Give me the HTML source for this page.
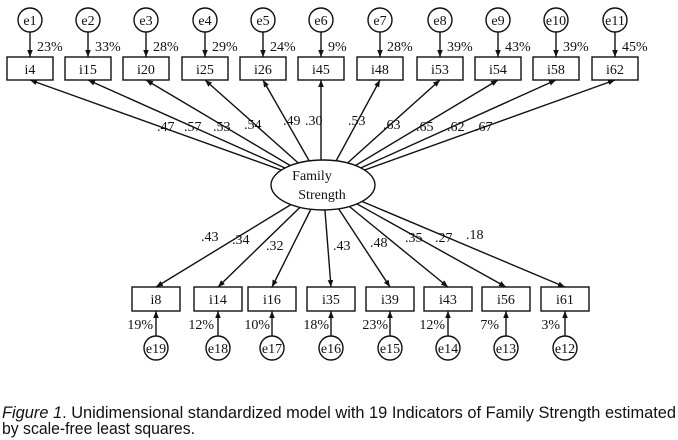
<!DOCTYPE html>
<html><head><meta charset="utf-8"><style>
html,body{margin:0;padding:0;background:#fff;width:678px;height:440px;overflow:hidden}
svg{display:block}
.t{font-family:"Liberation Serif",serif;font-size:14px;fill:#111}
.c{font-family:"Liberation Sans",sans-serif;font-size:17px;fill:#111}
</style></head><body>
<svg width="678" height="440" viewBox="0 0 678 440" xmlns="http://www.w3.org/2000/svg">
<defs><marker id="a" viewBox="0 0 10 10" refX="10" refY="5" markerWidth="7" markerHeight="7" markerUnits="userSpaceOnUse" orient="auto"><path d="M0,1 L10,5 L0,9 z" fill="#111"/></marker></defs>
<g stroke="#111" stroke-width="1.4" fill="none" marker-end="url(#a)">
<line x1="323" y1="185" x2="30" y2="80"/><line x1="323" y1="185" x2="88" y2="80"/><line x1="323" y1="185" x2="146" y2="80"/><line x1="323" y1="185" x2="205" y2="80"/><line x1="323" y1="185" x2="263" y2="80"/><line x1="321" y1="185" x2="321" y2="80"/><line x1="323" y1="185" x2="380" y2="80"/><line x1="323" y1="185" x2="440" y2="80"/><line x1="323" y1="185" x2="498" y2="80"/><line x1="323" y1="185" x2="556" y2="80"/><line x1="323" y1="185" x2="615" y2="80"/>
<line x1="323" y1="185" x2="156" y2="287"/><line x1="323" y1="185" x2="218" y2="287"/><line x1="323" y1="185" x2="272" y2="287"/><line x1="323" y1="185" x2="331" y2="287"/><line x1="323" y1="185" x2="390" y2="287"/><line x1="323" y1="185" x2="448" y2="287"/><line x1="323" y1="185" x2="506" y2="287"/><line x1="323" y1="185" x2="565" y2="287"/>
<line x1="30" y1="32" x2="30" y2="57"/><line x1="88" y1="32" x2="88" y2="57"/><line x1="146" y1="32" x2="146" y2="57"/><line x1="205" y1="32" x2="205" y2="57"/><line x1="263" y1="32" x2="263" y2="57"/><line x1="321" y1="32" x2="321" y2="57"/><line x1="380" y1="32" x2="380" y2="57"/><line x1="440" y1="32" x2="440" y2="57"/><line x1="498" y1="32" x2="498" y2="57"/><line x1="556" y1="32" x2="556" y2="57"/><line x1="615" y1="32" x2="615" y2="57"/>
<line x1="156" y1="336" x2="156" y2="311"/><line x1="218" y1="336" x2="218" y2="311"/><line x1="272" y1="336" x2="272" y2="311"/><line x1="331" y1="336" x2="331" y2="311"/><line x1="390" y1="336" x2="390" y2="311"/><line x1="448" y1="336" x2="448" y2="311"/><line x1="506" y1="336" x2="506" y2="311"/><line x1="565" y1="336" x2="565" y2="311"/>
</g>
<ellipse cx="323" cy="185" rx="52" ry="25" fill="#fff" stroke="#111" stroke-width="1.4"/>
<text class="t" x="312" y="180" text-anchor="middle">Family</text>
<text class="t" x="322" y="199" text-anchor="middle">Strength</text>
<g fill="#fff" stroke="#111" stroke-width="1.4">
<rect x="7" y="57" width="46" height="23"/><rect x="65" y="57" width="46" height="23"/><rect x="123" y="57" width="46" height="23"/><rect x="182" y="57" width="46" height="23"/><rect x="240" y="57" width="46" height="23"/><rect x="298" y="57" width="46" height="23"/><rect x="357" y="57" width="46" height="23"/><rect x="417" y="57" width="46" height="23"/><rect x="475" y="57" width="46" height="23"/><rect x="533" y="57" width="46" height="23"/><rect x="592" y="57" width="46" height="23"/>
<rect x="132" y="287" width="48" height="24"/><rect x="194" y="287" width="48" height="24"/><rect x="248" y="287" width="48" height="24"/><rect x="307" y="287" width="48" height="24"/><rect x="366" y="287" width="48" height="24"/><rect x="424" y="287" width="48" height="24"/><rect x="482" y="287" width="48" height="24"/><rect x="541" y="287" width="48" height="24"/>
<circle cx="30" cy="20" r="12"/><circle cx="88" cy="20" r="12"/><circle cx="146" cy="20" r="12"/><circle cx="205" cy="20" r="12"/><circle cx="263" cy="20" r="12"/><circle cx="321" cy="20" r="12"/><circle cx="380" cy="20" r="12"/><circle cx="440" cy="20" r="12"/><circle cx="498" cy="20" r="12"/><circle cx="556" cy="20" r="12"/><circle cx="615" cy="20" r="12"/>
<circle cx="156" cy="348" r="12"/><circle cx="218" cy="348" r="12"/><circle cx="272" cy="348" r="12"/><circle cx="331" cy="348" r="12"/><circle cx="390" cy="348" r="12"/><circle cx="448" cy="348" r="12"/><circle cx="506" cy="348" r="12"/><circle cx="565" cy="348" r="12"/>
</g>
<g class="t" text-anchor="middle">
<text x="30" y="25">e1</text><text x="88" y="25">e2</text><text x="146" y="25">e3</text><text x="205" y="25">e4</text><text x="263" y="25">e5</text><text x="321" y="25">e6</text><text x="380" y="25">e7</text><text x="440" y="25">e8</text><text x="498" y="25">e9</text><text x="556" y="25">e10</text><text x="615" y="25">e11</text>
<text x="30" y="74">i4</text><text x="88" y="74">i15</text><text x="146" y="74">i20</text><text x="205" y="74">i25</text><text x="263" y="74">i26</text><text x="321" y="74">i45</text><text x="380" y="74">i48</text><text x="440" y="74">i53</text><text x="498" y="74">i54</text><text x="556" y="74">i58</text><text x="615" y="74">i62</text>
<text x="156" y="304">i8</text><text x="218" y="304">i14</text><text x="272" y="304">i16</text><text x="331" y="304">i35</text><text x="390" y="304">i39</text><text x="448" y="304">i43</text><text x="506" y="304">i56</text><text x="565" y="304">i61</text>
<text x="156" y="353">e19</text><text x="218" y="353">e18</text><text x="272" y="353">e17</text><text x="331" y="353">e16</text><text x="390" y="353">e15</text><text x="448" y="353">e14</text><text x="506" y="353">e13</text><text x="565" y="353">e12</text>
</g>
<g class="t">
<text x="37" y="51">23%</text><text x="95" y="51">33%</text><text x="153" y="51">28%</text><text x="212" y="51">29%</text><text x="270" y="51">24%</text><text x="328" y="51">9%</text><text x="387" y="51">28%</text><text x="447" y="51">39%</text><text x="505" y="51">43%</text><text x="563" y="51">39%</text><text x="622" y="51">45%</text>
<text x="157" y="131">.47</text><text x="184" y="131">.57</text><text x="213" y="131">.53</text><text x="244" y="129">.54</text><text x="283" y="125">.49</text><text x="305" y="125">.30</text>
<text x="348" y="125">.53</text><text x="383" y="129">.63</text><text x="416" y="131">.65</text><text x="447" y="131">.62</text><text x="475" y="131">.67</text>
<text x="201" y="241">.43</text><text x="232" y="244">.34</text><text x="266" y="250">.32</text><text x="333" y="250">.43</text><text x="370" y="247">.48</text><text x="405" y="242">.35</text><text x="435" y="242">.27</text><text x="466" y="239">.18</text>
</g>
<g class="t" text-anchor="end">
<text x="153" y="329">19%</text><text x="214" y="329">12%</text><text x="270" y="329">10%</text><text x="329" y="329">18%</text><text x="388" y="329">23%</text><text x="445" y="329">12%</text><text x="499" y="329">7%</text><text x="560" y="329">3%</text>
</g>
<text class="c" x="2" y="418" textLength="674" lengthAdjust="spacingAndGlyphs"><tspan font-style="italic">Figure 1</tspan>. Unidimensional standardized model with 19 Indicators of Family Strength estimated</text>
<text class="c" x="2" y="434" textLength="193" lengthAdjust="spacingAndGlyphs">by scale-free least squares.</text>
</svg>
</body></html>
